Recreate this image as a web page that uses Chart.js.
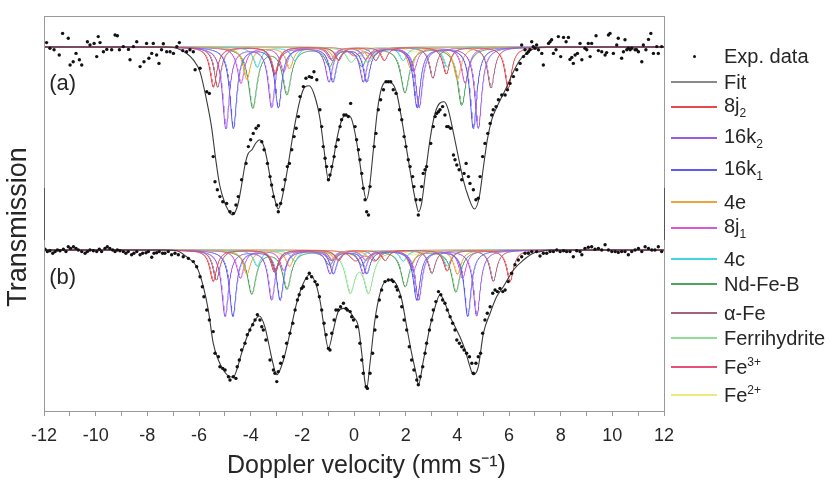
<!DOCTYPE html>
<html>
<head>
<meta charset="utf-8">
<script src="https://cdn.jsdelivr.net/npm/chart.js@4.4.1/dist/chart.umd.min.js"></script>
<style>
  html, body { margin: 0; padding: 0; background: #fff; }
  #wrap { position: relative; width: 830px; height: 484px; }
  #chart { position: absolute; left: 0; top: 0; }
  .leg-row { position: absolute; left: 671px; height: 22px; display: flex; align-items: center;
    font: 20px "Liberation Sans", Arial, sans-serif; color: #262626; white-space: nowrap; }
  .leg-sample { width: 46px; height: 1.5px; margin-right: 7px; }
  .leg-dotbox { width: 46px; margin-right: 7px; display: flex; justify-content: center; }
  .leg-dot { width: 3px; height: 3px; border-radius: 50%; background: #111; }
  .leg-row sub, .leg-row sup { font-size: 60%; }
</style>
</head>
<body>
<div id="wrap">
  <canvas id="chart" width="830" height="484"></canvas>
  <div id="legend"></div>
</div>
<script>
"use strict";

// ---- experimental points, spectrum (a) ----
const expAv = [-11.90,-11.77,-11.61,-11.41,-11.28,-11.06,-10.99,-10.87,-10.76,-10.63,-10.54,-10.32,-10.22,-10.06,-9.96,-9.90,-9.83,-9.70,-9.57,-9.38,-9.25,-9.16,-9.08,-8.93,-8.73,-8.67,-8.54,-8.41,-8.28,-8.13,-8.03,-7.94,-7.83,-7.77,-7.64,-7.55,-7.45,-7.38,-7.25,-7.12,-6.99,-6.86,-6.76,-6.63,-6.48,-6.35,-6.22,-6.15,-5.96,-5.70,-5.60,-5.45,-5.38,-5.29,-5.19,-5.08,-4.93,-4.80,-4.67,-4.57,-4.48,-4.35,-4.18,-4.09,-4.00,-3.90,-3.79,-3.70,-3.57,-3.48,-3.35,-3.25,-3.19,-3.12,-2.99,-2.93,-2.84,-2.76,-2.67,-2.58,-2.50,-2.41,-2.32,-2.24,-2.15,-2.09,-1.96,-1.86,-1.73,-1.64,-1.55,-1.44,-1.32,-1.25,-1.19,-1.12,-1.06,-0.99,-0.93,-0.86,-0.77,-0.70,-0.61,-0.54,-0.48,-0.39,-0.31,-0.22,-0.13,0.04,0.10,0.17,0.23,0.30,0.36,0.43,0.49,0.56,0.62,0.78,0.85,0.94,1.03,1.14,1.24,1.33,1.42,1.52,1.63,1.76,1.85,1.94,2.01,2.10,2.17,2.27,2.32,2.40,2.49,2.56,2.62,2.68,2.75,2.81,2.97,3.07,3.14,3.20,3.27,3.33,3.43,3.52,3.59,3.65,3.74,3.85,3.91,3.98,4.07,4.17,4.26,4.34,4.43,4.49,4.62,4.72,4.81,4.88,4.98,5.07,5.18,5.27,5.33,5.39,5.50,5.59,5.72,5.85,5.94,6.04,6.17,6.30,6.43,6.49,6.56,6.62,6.69,6.75,6.81,6.88,6.94,7.01,7.07,7.14,7.27,7.33,7.53,7.59,7.65,7.72,7.82,7.91,8.00,8.11,8.21,8.30,8.36,8.43,8.49,8.56,8.65,8.75,8.82,8.94,9.01,9.07,9.14,9.20,9.37,9.46,9.59,9.72,9.78,9.85,9.91,10.04,10.17,10.23,10.36,10.43,10.49,10.56,10.62,10.69,10.75,10.88,10.94,11.01,11.14,11.20,11.30,11.40,11.49,11.59,11.72,11.78,11.91];
const expAt = [101.1,99.7,99.3,98.0,103.4,102.2,95.5,96.3,98.4,96.8,95.5,101.3,100.5,100.9,97.6,102.6,101.1,98.8,99.4,99.3,103.0,102.8,99.3,100.1,99.4,96.8,100.1,101.3,95.1,96.3,100.9,97.2,98.4,100.9,98.0,95.9,99.3,100.8,98.8,98.8,98.4,100.1,101.1,99.1,98.8,99.3,98.8,94.3,94.7,88.8,88.4,72.6,66.3,64.3,62.6,61.3,60.9,58.8,58.4,60.5,62.6,66.8,70.9,75.1,76.8,78.4,79.7,80.3,76.3,74.3,70.9,67.6,65.5,62.6,60.5,58.8,60.9,64.3,66.8,70.1,70.9,74.3,77.6,79.7,82.6,87.6,90.1,92.2,92.6,92.4,93.8,91.8,84.3,80.1,75.1,72.2,70.1,66.8,68.0,70.1,72.6,75.1,76.8,80.1,81.8,83.0,83.0,82.6,85.9,80.1,76.8,74.3,71.8,68.4,64.7,61.8,58.8,58.0,65.1,75.1,78.4,84.3,86.8,89.3,91.3,91.3,91.3,89.3,88.4,84.3,81.8,77.6,75.1,71.8,70.1,67.6,65.1,61.8,58.0,61.8,65.1,68.4,69.3,70.1,75.9,80.1,82.6,83.4,83.8,84.3,85.1,83.0,80.1,80.1,79.7,73.0,71.8,70.5,69.3,66.8,68.4,70.9,67.6,65.9,64.3,61.8,62.2,67.6,72.6,75.9,78.4,80.9,83.0,84.3,85.1,86.8,88.0,88.0,89.3,90.9,92.6,94.3,95.9,100.5,97.6,99.3,98.4,98.8,99.3,101.3,100.1,99.7,100.5,99.3,98.4,95.5,100.9,101.3,101.8,98.4,99.3,102.6,97.6,102.4,101.3,102.4,96.9,97.4,95.9,98.0,98.4,100.9,96.8,99.7,99.3,100.9,97.6,100.9,102.8,99.1,98.8,98.0,98.6,103.0,103.4,98.4,100.5,102.2,97.2,98.8,101.8,99.3,99.7,99.3,99.7,99.3,99.3,98.8,96.3,100.5,99.3,101.9,103.4,98.4,100.1,98.4,100.1];

// ---- experimental points, spectrum (b) ----
const expBv = [-11.96,-11.87,-11.77,-11.66,-11.57,-11.48,-11.38,-11.25,-11.15,-11.06,-10.97,-10.86,-10.76,-10.67,-10.54,-10.41,-10.32,-10.22,-10.09,-9.96,-9.86,-9.77,-9.64,-9.55,-9.45,-9.34,-9.25,-9.16,-9.06,-8.93,-8.83,-8.74,-8.61,-8.52,-8.41,-8.28,-8.18,-8.05,-7.96,-7.83,-7.74,-7.64,-7.54,-7.41,-7.32,-7.19,-7.06,-6.93,-6.80,-6.61,-6.41,-6.22,-6.09,-5.96,-5.87,-5.81,-5.70,-5.60,-5.45,-5.38,-5.25,-5.19,-5.08,-4.99,-4.86,-4.80,-4.67,-4.57,-4.52,-4.44,-4.35,-4.22,-4.13,-4.03,-3.92,-3.83,-3.74,-3.64,-3.57,-3.51,-3.41,-3.25,-3.12,-3.06,-2.99,-2.93,-2.84,-2.73,-2.61,-2.48,-2.37,-2.28,-2.19,-2.12,-2.03,-1.96,-1.83,-1.73,-1.64,-1.51,-1.42,-1.34,-1.25,-1.16,-1.08,-0.99,-0.93,-0.86,-0.77,-0.70,-0.61,-0.52,-0.41,-0.31,-0.26,-0.15,-0.09,-0.02,0.10,0.23,0.30,0.36,0.47,0.52,0.62,0.72,0.81,0.88,0.98,1.07,1.20,1.33,1.46,1.52,1.63,1.68,1.78,1.85,1.94,2.04,2.14,2.23,2.32,2.43,2.49,2.56,2.66,2.75,2.81,2.92,3.01,3.07,3.17,3.27,3.36,3.43,3.52,3.61,3.72,3.82,3.91,3.98,4.08,4.17,4.26,4.36,4.47,4.56,4.62,4.72,4.81,4.90,4.98,5.07,5.16,5.27,5.37,5.46,5.55,5.65,5.76,5.85,5.97,6.10,6.23,6.36,6.49,6.62,6.75,6.88,7.07,7.20,7.33,7.46,7.59,7.72,7.85,7.98,8.11,8.23,8.36,8.49,8.62,8.75,8.82,8.94,9.07,9.20,9.33,9.46,9.59,9.72,9.85,9.98,10.11,10.23,10.36,10.49,10.62,10.75,10.88,11.01,11.14,11.27,11.40,11.53,11.65,11.78,11.91];
const expBt = [100.2,99.6,99.8,99.2,99.6,100.0,99.8,100.2,99.6,100.8,100.4,100.8,100.4,100.0,99.6,99.2,99.6,100.0,99.8,99.6,100.2,99.6,100.4,100.8,100.4,100.0,99.6,100.0,99.8,99.6,99.2,99.6,98.8,99.2,99.6,98.8,99.2,99.3,99.6,98.2,99.2,99.3,99.6,99.2,99.2,99.6,98.8,99.2,98.8,98.3,97.9,97.1,95.8,93.3,90.8,88.3,85.0,82.5,79.6,74.2,73.3,70.8,70.4,70.0,68.3,67.5,68.3,67.9,70.8,72.5,75.0,76.7,78.8,80.0,81.3,82.5,83.8,82.5,80.8,80.0,77.5,72.5,70.0,69.2,67.1,69.6,71.7,73.3,76.7,79.2,81.7,85.0,87.5,88.8,90.4,90.8,92.9,94.2,93.3,92.1,91.3,88.3,85.0,81.7,78.8,75.4,75.0,79.2,82.5,85.0,85.0,85.8,86.7,85.4,85.0,84.6,83.3,82.5,80.8,76.7,72.5,69.2,65.8,65.4,69.2,74.2,80.0,83.3,87.5,90.0,92.1,92.5,92.5,92.1,90.8,90.0,88.3,85.8,82.5,80.0,75.8,72.5,70.0,67.5,66.3,68.3,70.8,74.2,76.7,80.0,82.5,85.0,87.1,89.6,88.8,87.5,86.7,85.0,83.3,81.7,80.0,77.5,76.7,75.8,75.0,74.2,73.3,71.7,69.2,71.7,73.3,74.2,79.2,82.5,84.2,85.8,89.2,90.0,89.6,90.4,89.6,90.0,92.1,94.2,96.3,97.5,98.3,99.2,99.2,99.6,99.6,98.5,99.2,99.2,99.6,99.6,100.0,99.6,99.8,99.6,99.6,98.3,99.8,99.6,98.8,100.4,100.7,100.8,100.2,100.4,100.0,101.3,100.0,99.6,99.6,99.4,99.6,99.6,98.8,99.6,100.0,100.4,99.6,100.8,100.4,100.0,100.0,100.8,99.6];

// ---- fitted envelopes ----
const fitAv = [-12,-7.2,-6.86,-6.5,-6.22,-5.96,-5.7,-5.51,-5.35,-5.2,-5.0,-4.85,-4.71,-4.58,-4.48,-4.35,-4.22,-4.1,-3.95,-3.8,-3.64,-3.5,-3.38,-3.25,-3.1,-2.93,-2.8,-2.6,-2.35,-2.09,-1.9,-1.73,-1.51,-1.31,-1.16,-0.99,-0.82,-0.67,-0.47,-0.31,-0.13,0.04,0.21,0.36,0.48,0.6,0.75,0.91,1.07,1.27,1.46,1.65,1.85,2.04,2.23,2.4,2.5,2.62,2.75,2.94,3.14,3.33,3.49,3.65,3.85,4.04,4.23,4.43,4.66,4.85,5.01,5.16,5.33,5.53,5.72,5.91,6.17,6.43,6.69,7.07,7.5,12];
const fitAt = [100,100,99.7,98.5,96.8,93.8,86.5,79.8,71.8,65.5,61,59,58,59,61,65.5,70.5,73.3,74.3,76,76.8,75.3,72.3,67.5,62.8,59.5,61.8,68.5,78.5,86.8,90,90.3,87.5,81.8,74.3,66.8,71,76.8,81.8,83,82.5,78.5,71.8,65,61.8,65,74.3,84.3,89.8,91.3,91,88.5,81.8,74.3,66.8,61,58.8,61,67.5,76.8,83.5,86,86.3,84.3,78.5,72.5,66.8,62.5,59.5,62.5,70,76.8,81.8,85,87.5,90,93.8,96.8,98.5,99.8,100,100];
const fitBv = [-12,-7.3,-6.86,-6.48,-6.09,-5.83,-5.64,-5.45,-5.25,-5.06,-4.8,-4.67,-4.54,-4.35,-4.09,-3.83,-3.66,-3.45,-3.3,-3.15,-2.99,-2.73,-2.48,-2.22,-1.96,-1.73,-1.51,-1.32,-1.16,-0.99,-0.8,-0.61,-0.41,-0.22,-0.03,0.17,0.3,0.43,0.49,0.62,0.81,1.01,1.2,1.46,1.65,1.85,2.04,2.23,2.43,2.49,2.69,2.94,3.14,3.33,3.52,3.72,3.91,4.1,4.3,4.49,4.62,4.81,5.01,5.27,5.52,5.78,6.17,6.56,6.94,7.2,7.6,12];
const fitBt = [100,100,99.8,98.3,95.8,90.8,85,76.7,72.5,70,68.3,68.2,70,74.2,79.2,82.5,83.5,80.8,76.5,72,68.8,72.5,79.2,86.7,91.7,93.8,92.1,87.5,80.8,75.4,80,84.6,85.4,85,83.3,80.8,74.2,66.7,65.4,71.7,82.5,89.2,92.1,92.5,91.3,87.5,80.8,74.2,68.3,66.3,72.5,80.8,85.8,88.8,86.7,83.3,80.8,78.3,75,70.8,68.8,70.8,79.2,84.2,88.3,90.8,95,97.5,99.2,99.6,100,100];

// ---- sub-spectra: line positions (mm/s) and depths (% of baseline), one row per component ----
const componentLabels = ["8j<sub>2</sub>", "16k<sub>2</sub>", "16k<sub>1</sub>", "4e", "8j<sub>1</sub>", "4c", "Nd-Fe-B", "&alpha;-Fe", "Ferrihydrite", "Fe<sup>3+</sup>", "Fe<sup>2+</sup>"];
const componentColors = ["#e5484d", "#9a5ae6", "#5c5cf0", "#f0a33c", "#d35bd8", "#3fd6dc", "#4fa35c", "#a6607c", "#8ddf93", "#e6517c", "#efe97a"];
const lineHalfWidth = [0.16, 0.16, 0.16, 0.17, 0.17, 0.17, 0.2, 0.16, 0.22, 0.25, 0.3];
const linePosA = [
  [-5.44, -3.05, -0.6, 1.17, 3.57, 5.97],
  [-4.96, -3.19, -0.97, 0.36, 2.52, 4.81],
  [-4.67, -2.93, -0.82, 0.49, 2.44, 4.62],
  [-4.15, -2.5, -0.75, 0.6, 2.2, 4.0],
  [-4.38, -2.72, -0.9, 0.45, 2.3, 4.3],
  [-3.75, -2.3, -0.7, 0.3, 1.9, 3.6],
  [-3.92, -2.6, -0.95, 0.3, 1.97, 4.17],
  [-5.28, -3.08, -0.84, 0.84, 3.05, 5.3],
  [-0.12, 0.55],
  [0.0, 0.75],
  [-0.1, 2.3],
];
const lineDepthA = [
  [10, 6.7, 3.3, 3.3, 6.7, 10.2],
  [20.3, 15, 8.5, 8.5, 15, 20.3],
  [20.3, 15, 8.5, 8.5, 15, 20.3],
  [8, 5.3, 2.7, 2.7, 5.3, 8],
  [9, 6, 3, 3, 6, 9],
  [5, 3.3, 1.7, 1.7, 3.3, 5],
  [15, 11.5, 4.5, 4.5, 11.2, 14.5],
  [10, 6.7, 3.3, 3.3, 7.7, 10.2],
  [3.5, 3.5],
  [2, 2],
  [1.2, 1.2],
];
const linePosB = [
  [-5.45, -3.05, -0.6, 1.2, 3.6, 6.04],
  [-4.99, -3.19, -0.93, 0.36, 2.5, 4.75],
  [-4.69, -2.86, -0.8, 0.49, 2.43, 4.4],
  [-4.15, -2.5, -0.75, 0.6, 2.2, 4.0],
  [-4.4, -2.72, -0.9, 0.45, 2.3, 4.2],
  [-3.75, -2.3, -0.7, 0.3, 1.9, 3.6],
  [-3.96, -2.6, -0.95, 0.3, 1.98, 3.94],
  [-5.33, -3.08, -0.84, 0.84, 3.01, 5.39],
  [-0.15, 0.56],
  [0.05, 0.8],
  [-0.1, 2.3],
];
const lineDepthB = [
  [7.8, 5.2, 2.6, 2.6, 5.2, 7.8],
  [16.5, 12.4, 5.75, 5.75, 12.4, 16.5],
  [16.5, 12.4, 5.75, 5.75, 12.4, 16.5],
  [6, 4, 2, 2, 4, 6],
  [7, 5, 2.5, 2.5, 5, 7],
  [4, 2.7, 1.4, 1.4, 2.7, 4],
  [10.8, 9.5, 3.5, 3.5, 9, 10.4],
  [7.5, 5.5, 2.6, 2.6, 5.8, 7.8],
  [10, 10],
  [2.5, 2.5],
  [1.2, 1.2],
];

// spectrum (b) is drawn shifted down by this many % units
const OFFSET_B = 50.75;
const FONT = "'Liberation Sans', Arial, sans-serif";
const INK = "#262626";
const FRAME = "#9a9a9a";

// legend rows: vertical centres in px
const LEGEND_Y = [56, 82, 107, 138, 170, 202, 228, 259, 284, 313, 338, 367, 395];

function pairs(vs, ts, offset) {
  return vs.map((v, i) => ({ x: v, y: ts[i] - offset }));
}

const VGRID = [];
for (let i = 0; i <= 1200; i++) VGRID.push(-12 + i * 0.02);

function subSpectrum(pos, depth, hw, offset) {
  return VGRID.map((v) => {
    let t = 100;
    pos.forEach((p, k) => {
      const u = (v - p) / hw;
      t -= depth[k] / (1 + u * u);
    });
    return { x: v, y: t - offset };
  });
}

const datasets = [];
[[expAv, expAt, 0], [expBv, expBt, OFFSET_B]].forEach(([vs, ts, off]) => {
  datasets.push({ data: pairs(vs, ts, off), showLine: false, pointRadius: 1.7, pointBorderWidth: 0,
    pointBackgroundColor: "#111", borderColor: "#111" });
});
[[fitAv, fitAt, 0], [fitBv, fitBt, OFFSET_B]].forEach(([vs, ts, off]) => {
  datasets.push({ data: pairs(vs, ts, off), borderColor: "#3a3a3a", borderWidth: 1.1, pointRadius: 0,
    cubicInterpolationMode: "monotone" });
});
componentLabels.forEach((_, c) => {
  datasets.push({ data: subSpectrum(linePosA[c], lineDepthA[c], lineHalfWidth[c], 0),
    borderColor: componentColors[c], borderWidth: 1, pointRadius: 0 });
  datasets.push({ data: subSpectrum(linePosB[c], lineDepthB[c], lineHalfWidth[c], OFFSET_B),
    borderColor: componentColors[c], borderWidth: 1, pointRadius: 0 });
});

const framePlugin = {
  id: "frame",
  afterDraw(chart) {
    const { ctx, chartArea: a, scales } = chart;
    ctx.save();
    ctx.strokeStyle = FRAME;
    ctx.lineWidth = 1;
    ctx.strokeRect(a.left + 0.5, a.top + 0.5, a.right - a.left, a.bottom - a.top);
    // darker stubs on both sides where the two spectra meet
    ctx.strokeStyle = "#555";
    ctx.beginPath();
    ctx.moveTo(a.left + 0.5, 188); ctx.lineTo(a.left + 0.5, 240);
    ctx.moveTo(a.right + 0.5, 188); ctx.lineTo(a.right + 0.5, 240);
    ctx.stroke();
    ctx.fillStyle = INK;
    ctx.font = `22px ${FONT}`;
    ctx.textBaseline = "middle";
    ctx.fillText("(a)", scales.x.getPixelForValue(-11.8), scales.y.getPixelForValue(90.75));
    ctx.fillText("(b)", scales.x.getPixelForValue(-11.8), scales.y.getPixelForValue(42.25));
    ctx.restore();
  },
};

new Chart(document.getElementById("chart"), {
  type: "line",
  data: { datasets },
  options: {
    responsive: false,
    animation: false,
    parsing: false,
    normalized: true,
    layout: { padding: { left: 0, top: 16, right: 166, bottom: 0 } },
    plugins: { legend: { display: false }, tooltip: { enabled: false } },
    scales: {
      x: {
        type: "linear", min: -12, max: 12,
        border: { display: false },
        grid: { drawOnChartArea: false, drawTicks: true, tickLength: 5, color: FRAME },
        ticks: { stepSize: 1, autoSkip: false, maxRotation: 0, padding: 9, color: INK,
          font: { family: FONT, size: 18 }, callback: (v) => (v % 2 === 0 ? String(v) : "") },
        // leading en spaces nudge the centred title a little to the right, as in the original
        title: { display: true, text: "\u2002\u2002Doppler velocity (mm s\u207B\u00B9)", color: INK,
          font: { family: FONT, size: 25 }, padding: { top: 0, bottom: 3 } },
        afterFit: (s) => { s.height = 73; },
      },
      y: {
        type: "linear", min: 9, max: 107.75,
        border: { display: false },
        grid: { display: false },
        ticks: { display: false },
        // trailing en spaces move the rotated title slightly downwards
        title: { display: true, text: "Transmission\u2002\u2002", color: INK,
          font: { family: FONT, size: 27 }, padding: { top: 2, bottom: 0 } },
        afterFit: (s) => { s.width = 44; },
      },
    },
  },
  plugins: [framePlugin],
});

// html legend beside the plot
const legendRows = [
  { label: "Exp. data", dot: true },
  { label: "Fit", color: "#8a8a8a" },
  ...componentLabels.map((label, c) => ({ label, color: componentColors[c] })),
];
document.getElementById("legend").innerHTML = legendRows.map((r, i) => `
  <div class="leg-row" style="top:${LEGEND_Y[i] - 11}px">
    ${r.dot ? `<span class="leg-dotbox"><span class="leg-dot"></span></span>`
            : `<span class="leg-sample" style="background:${r.color}"></span>`}
    <span>${r.label}</span>
  </div>`).join("");
</script>
</body>
</html>
